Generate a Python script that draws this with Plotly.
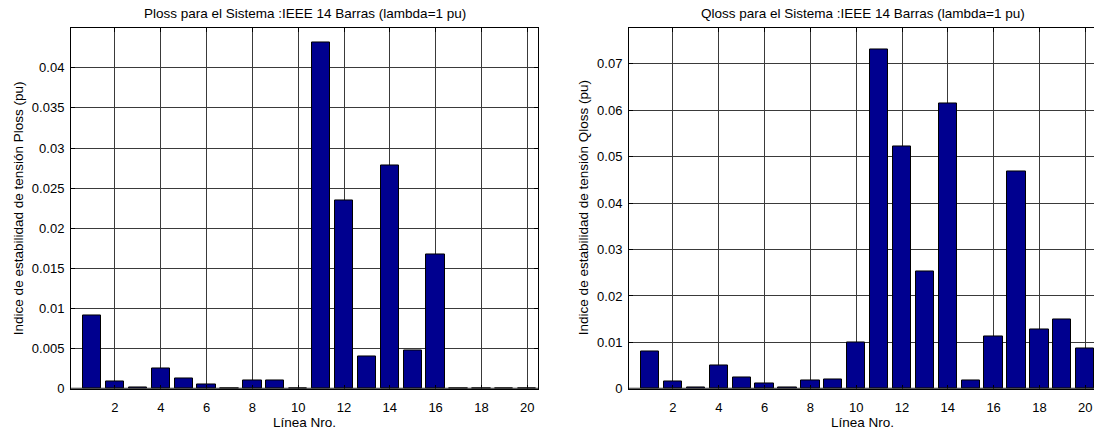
import plotly.graph_objects as go

lineas = list(range(1, 21))
ploss = [0.0092, 0.00088, 0.00015, 0.00256, 0.00124, 0.0006, 0.00004, 0.0010, 0.00110, 0.0001,
         0.04318, 0.02343, 0.0040, 0.02778, 0.00472, 0.0167, 0.00003, 0.00002, 0.00002, 0.00002]
qloss = [0.00796, 0.00162, 0.0002, 0.0050, 0.00254, 0.00113, 0.00035, 0.00183, 0.00204, 0.0099,
         0.07318, 0.0522, 0.0253, 0.06155, 0.00176, 0.0112, 0.0469, 0.01275, 0.0150, 0.00866]

x_ticks = [2, 4, 6, 8, 10, 12, 14, 16, 18, 20]
p_ticks = [0, 0.005, 0.01, 0.015, 0.02, 0.025, 0.03, 0.035, 0.04]
p_ticktext = ["0", "0.005", "0.01", "0.015", "0.02", "0.025", "0.03", "0.035", "0.04"]
q_ticks = [0, 0.01, 0.02, 0.03, 0.04, 0.05, 0.06, 0.07]
q_ticktext = ["0", "0.01", "0.02", "0.03", "0.04", "0.05", "0.06", "0.07"]

title_p = "Ploss para el Sistema :IEEE 14 Barras (lambda=1 pu)"
title_q = "Qloss para el Sistema :IEEE 14 Barras (lambda=1 pu)"
ylab_p = "Indice de estabilidad de tensión Ploss (pu)"
ylab_q = "Indice de estabilidad de tensión Qloss (pu)"
xlab = "Línea Nro."

W, H = 1094, 441
FONT = "Liberation Sans, Arial, sans-serif"
BAR = "#00008F"
GRID = "#3a3a3a"
FS_TICK = 13
FS_TEXT = 13.5

# pixel geometry
L1, R1 = 71, 538
L2 = 629
TOP, BOT = 29, 396
x0_full, x1_full = 0.08, 20.47
px_per_unit = (R1 - L1) / (x1_full - x0_full)
x1_right = x0_full + (W - L2) / px_per_unit

fig = go.Figure()
fig.add_trace(go.Bar(x=lineas, y=ploss, width=0.8, marker=dict(color=BAR, line=dict(color="black", width=1)),
                     xaxis="x", yaxis="y", showlegend=False))
fig.add_trace(go.Bar(x=lineas, y=qloss, width=0.8, marker=dict(color=BAR, line=dict(color="black", width=1)),
                     xaxis="x2", yaxis="y2", showlegend=False))

ydom = [1 - BOT / H, 1 - TOP / H]
common_x = dict(tickvals=x_ticks, ticks="inside", ticklen=4, tickcolor="black", showgrid=True,
                gridcolor=GRID, gridwidth=1, showline=True, linecolor="black", linewidth=1,
                zeroline=False, ticklabelstandoff=7,
                tickfont=dict(family=FONT, size=FS_TICK, color="black"))
common_y = dict(ticks="inside", ticklen=4, tickcolor="black", showgrid=True, gridcolor=GRID, gridwidth=1,
                showline=True, linecolor="black", linewidth=1, zeroline=False, ticklabelstandoff=3,
                tickfont=dict(family=FONT, size=FS_TICK, color="black"), domain=ydom)

fig.update_layout(
    width=W, height=H, margin=dict(l=0, r=0, t=0, b=0),
    paper_bgcolor="white", plot_bgcolor="white", bargap=0,
    font=dict(family=FONT, size=FS_TICK, color="black"),
    xaxis=dict(domain=[L1 / W, R1 / W], range=[x0_full, x1_full], anchor="y", mirror="ticks", **common_x),
    yaxis=dict(range=[0, 0.0449], tickvals=p_ticks, ticktext=p_ticktext, anchor="x", mirror="ticks", **common_y),
    xaxis2=dict(domain=[L2 / W, 1.0], range=[x0_full, x1_right], anchor="y2", mirror="ticks", **common_x),
    yaxis2=dict(range=[0, 0.0776], tickvals=q_ticks, ticktext=q_ticktext, anchor="x2", mirror=False, **common_y),
)

# baselines
fig.add_shape(type="line", xref="x domain", yref="y", x0=0, x1=1, y0=0, y1=0, line=dict(color="#2a2a2a", width=2))
fig.add_shape(type="line", xref="x2 domain", yref="y2", x0=0, x1=1, y0=0, y1=0, line=dict(color="#2a2a2a", width=2))

xc = (x0_full + x1_full) / 2
tf = dict(family=FONT, size=FS_TEXT, color="black")
base = dict(showarrow=False, font=tf, xanchor="center", yanchor="middle", yref="paper")
ann = [
    dict(text=title_p, x=xc, xref="x", y=1 - 14 / H, **base),
    dict(text=title_q, x=xc, xref="x2", y=1 - 14 / H, **base),
    dict(text=xlab, x=xc, xref="x", y=1 - 430 / H, **base),
    dict(text=xlab, x=xc, xref="x2", y=1 - 430 / H, **base),
    dict(text=ylab_p, x=18 / W, xref="paper", y=1 - 212 / H, textangle=-90, **base),
    dict(text=ylab_q, x=583 / W, xref="paper", y=1 - 212 / H, textangle=-90, **base),
]
fig.update_layout(annotations=ann)

fig.write_html("out.html")
